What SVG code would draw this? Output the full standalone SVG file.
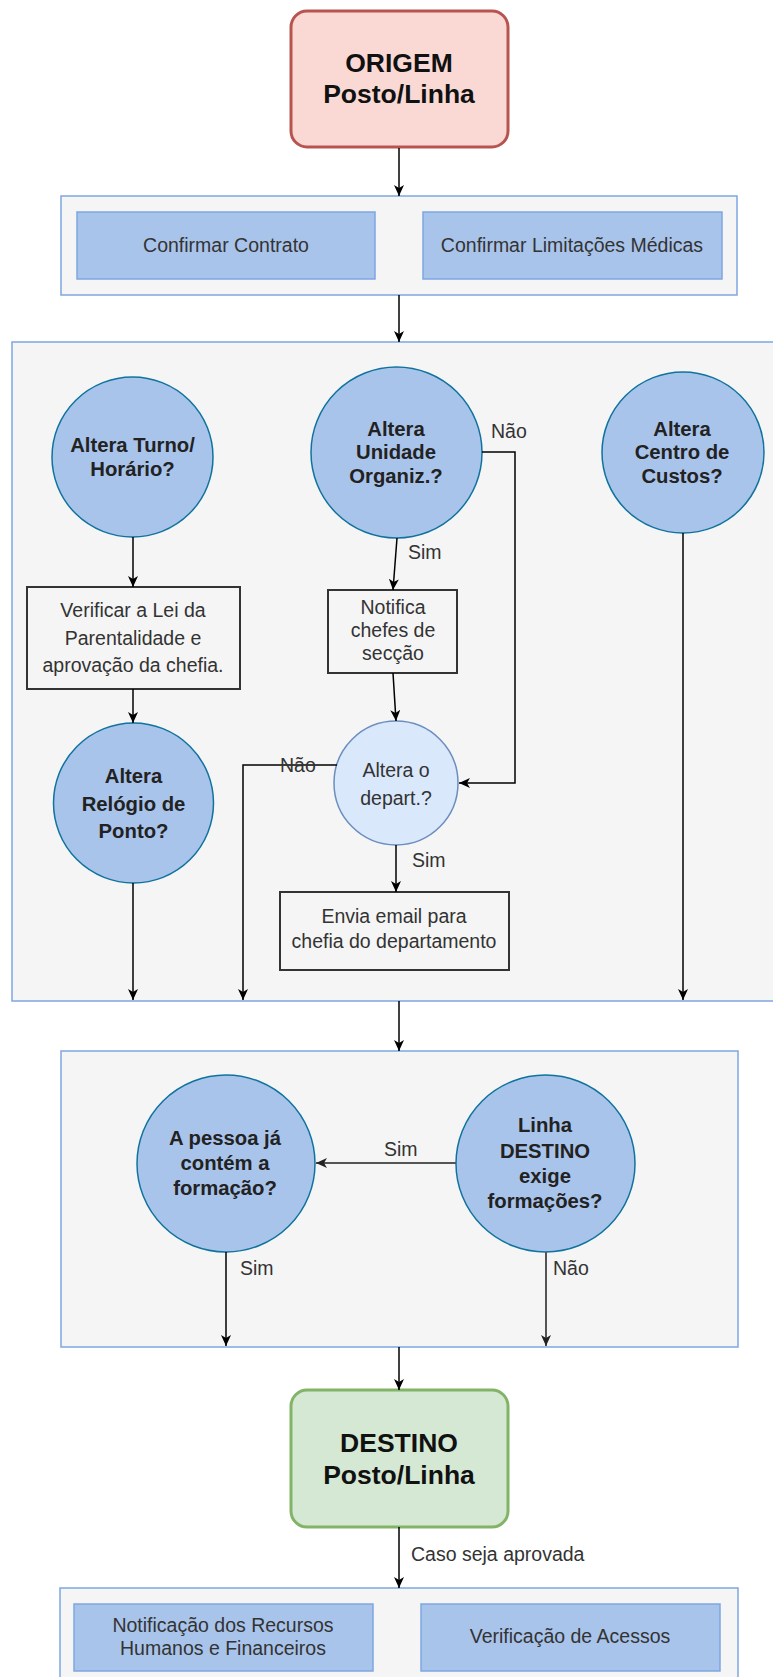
<svg xmlns="http://www.w3.org/2000/svg" width="773" height="1677" viewBox="0 0 773 1677">
<defs>
<marker id="arr" markerUnits="userSpaceOnUse" markerWidth="12" markerHeight="10" refX="11" refY="5" orient="auto">
<path d="M0,0 L11,5 L0,10 L3,5 z" fill="#000"/>
</marker>
<marker id="arrg" markerUnits="userSpaceOnUse" markerWidth="12" markerHeight="10" refX="11" refY="5" orient="auto">
<path d="M0,0 L11,5 L0,10 L3,5 z" fill="#222"/>
</marker>
</defs>
<style>
.cont{fill:#f5f5f5;stroke:#7ea6e0;stroke-width:1.5}
.blue{fill:#a9c4eb;stroke:#7ea6e0;stroke-width:1.5}
.dec{fill:#a9c4eb;stroke:#10739e;stroke-width:1.5}
.dec2{fill:#dae8fc;stroke:#6c8ebf;stroke-width:1.5}
.proc{fill:#f5f5f5;stroke:#333;stroke-width:2}
.t{font-family:"Liberation Sans",Arial,sans-serif;font-size:19.5px;fill:#333;text-anchor:middle}
.b{font-family:"Liberation Sans",Arial,sans-serif;font-size:20.3px;font-weight:bold;fill:#222;text-anchor:middle}
.big{font-family:"Liberation Sans",Arial,sans-serif;font-size:26.5px;font-weight:bold;fill:#111;text-anchor:middle}
.lbl{font-family:"Liberation Sans",Arial,sans-serif;font-size:19.5px;fill:#333}
.c{fill:none;stroke:#000;stroke-width:1.5;marker-end:url(#arr)}
.cg{fill:none;stroke:#555;stroke-width:2;marker-end:url(#arrg)}
</style>
<rect width="773" height="1677" fill="#fff"/>

<g id="container1"><rect class="cont" x="61" y="196" width="676" height="99"/></g>
<g id="container2"><rect class="cont" x="12" y="342" width="780" height="659"/></g>
<g id="container3"><rect class="cont" x="61" y="1051" width="677" height="296"/></g>
<g id="container4"><rect class="cont" x="60" y="1588" width="678" height="110"/></g>

<g id="origem">
<rect x="291" y="11" width="217" height="136" rx="16" fill="#fad9d5" stroke="#b85450" stroke-width="3"/>
<text class="big" x="399" y="72">ORIGEM</text>
<text class="big" x="399" y="103">Posto/Linha</text>
</g>

<g id="confirmar-contrato">
<rect class="blue" x="77" y="212" width="298" height="67"/>
<text class="t" x="226" y="252">Confirmar Contrato</text>
</g>
<g id="confirmar-limitacoes">
<rect class="blue" x="423" y="212" width="299" height="67"/>
<text class="t" x="572" y="252">Confirmar Limitações Médicas</text>
</g>

<g id="altera-turno">
<ellipse class="dec" cx="132.5" cy="457" rx="80.5" ry="80"/>
<text class="b" x="132.5" y="452">Altera Turno/</text>
<text class="b" x="132.5" y="476">Horário?</text>
</g>

<g id="verificar-lei">
<rect class="proc" x="27" y="587" width="213" height="102"/>
<text class="t" x="133" y="617">Verificar a Lei da</text>
<text class="t" x="133" y="645">Parentalidade e</text>
<text class="t" x="133" y="672">aprovação da chefia.</text>
</g>

<g id="altera-relogio">
<ellipse class="dec" cx="133.5" cy="803" rx="80" ry="80"/>
<text class="b" x="133.5" y="783">Altera</text>
<text class="b" x="133.5" y="811">Relógio de</text>
<text class="b" x="133.5" y="838">Ponto?</text>
</g>

<g id="altera-unidade">
<ellipse class="dec" cx="396.5" cy="452.5" rx="85.5" ry="85.5"/>
<text class="b" x="396" y="436">Altera</text>
<text class="b" x="396" y="459">Unidade</text>
<text class="b" x="396" y="483">Organiz.?</text>
</g>

<g id="notifica-chefes">
<rect class="proc" x="328" y="590" width="129" height="83"/>
<text class="t" x="393" y="614">Notifica</text>
<text class="t" x="393" y="637">chefes de</text>
<text class="t" x="393" y="660">secção</text>
</g>

<g id="altera-depart">
<ellipse class="dec2" cx="396" cy="783" rx="62" ry="62"/>
<text class="t" x="396" y="777">Altera o</text>
<text class="t" x="396" y="805">depart.?</text>
</g>

<g id="envia-email">
<rect class="proc" x="280" y="892" width="229" height="78"/>
<text class="t" x="394" y="923">Envia email para</text>
<text class="t" x="394" y="948">chefia do departamento</text>
</g>

<g id="altera-centro">
<ellipse class="dec" cx="683" cy="452.5" rx="81" ry="80.5"/>
<text class="b" x="682" y="436">Altera</text>
<text class="b" x="682" y="459">Centro de</text>
<text class="b" x="682" y="483">Custos?</text>
</g>

<g id="pessoa-formacao">
<ellipse class="dec" cx="226" cy="1163.5" rx="89" ry="88.5"/>
<text class="b" x="225" y="1145">A pessoa já</text>
<text class="b" x="225" y="1170">contém a</text>
<text class="b" x="225" y="1195">formação?</text>
</g>

<g id="linha-destino">
<ellipse class="dec" cx="545.5" cy="1163.5" rx="89.5" ry="88.5"/>
<text class="b" x="545" y="1132">Linha</text>
<text class="b" x="545" y="1158">DESTINO</text>
<text class="b" x="545" y="1183">exige</text>
<text class="b" x="545" y="1208">formações?</text>
</g>

<g id="destino">
<rect x="291" y="1390" width="217" height="137" rx="16" fill="#d5e8d4" stroke="#82b366" stroke-width="3"/>
<text class="big" x="399" y="1452">DESTINO</text>
<text class="big" x="399" y="1484">Posto/Linha</text>
</g>

<g id="notificacao-rh">
<rect class="blue" x="74" y="1604" width="299" height="67"/>
<text class="t" x="223" y="1632">Notificação dos Recursos</text>
<text class="t" x="223" y="1655">Humanos e Financeiros</text>
</g>
<g id="verificacao-acessos">
<rect class="blue" x="421" y="1604" width="299" height="67"/>
<text class="t" x="570" y="1643">Verificação de Acessos</text>
</g>

<g id="connectors">
<path class="c" d="M399,148 V196"/>
<path class="c" d="M399,295 V342"/>
<path class="c" d="M133,537 V587"/>
<path class="c" d="M133,689 V723"/>
<path class="c" d="M133,883 V1000"/>
<path class="c" d="M397,538 L393,590"/>
<path class="c" d="M482,452 H515 V783 H459"/>
<path class="c" d="M393,673 L396,721"/>
<path class="c" d="M396,845 V892"/>
<path class="c" d="M337,765 H243 V1000"/>
<path class="c" d="M683,533 V1000"/>
<path class="c" d="M399,1001 V1051"/>
<path class="cg" d="M456,1163 H316"/>
<path class="c" d="M226,1252 V1346"/>
<path class="cg" d="M546,1252 V1346"/>
<path class="c" d="M399,1347 V1390"/>
<path class="c" d="M399,1527 V1588"/>
<text class="lbl" x="408" y="559">Sim</text>
<text class="lbl" x="491" y="438">Não</text>
<text class="lbl" x="412" y="867">Sim</text>
<text class="lbl" x="280" y="772">Não</text>
<text class="lbl" x="384" y="1156">Sim</text>
<text class="lbl" x="240" y="1275">Sim</text>
<text class="lbl" x="553" y="1275">Não</text>
<text class="lbl" x="411" y="1561">Caso seja aprovada</text>
</g>
</svg>
